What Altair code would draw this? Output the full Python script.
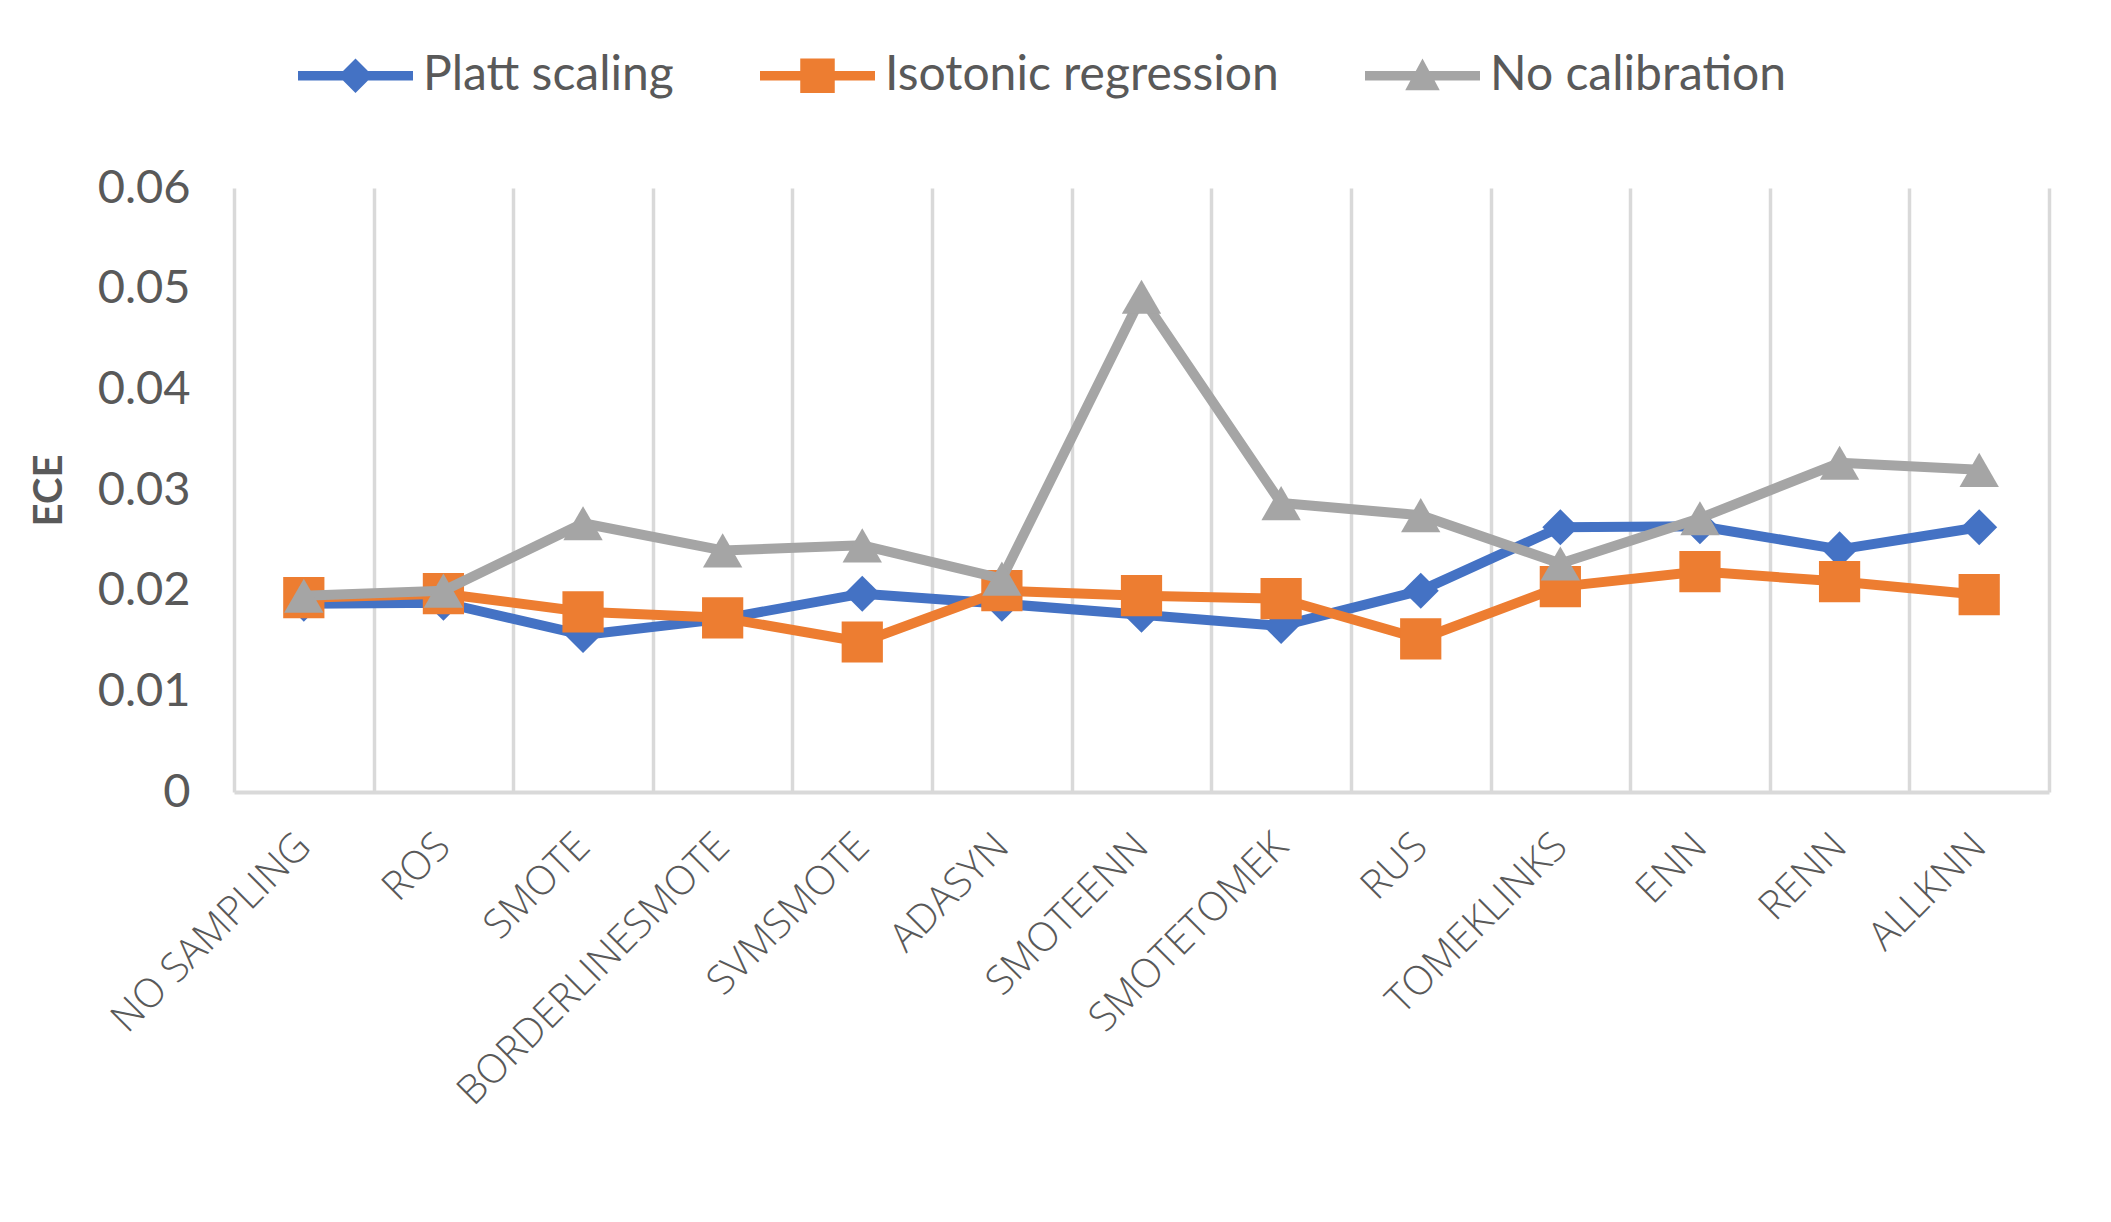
import altair as alt
import pandas as pd

methods = ["NO SAMPLING", "ROS", "SMOTE", "BORDERLINESMOTE", "SVMSMOTE", "ADASYN",
           "SMOTEENN", "SMOTETOMEK", "RUS", "TOMEKLINKS", "ENN", "RENN", "ALLKNN"]
series_names = ["Platt scaling", "Isotonic regression", "No calibration"]
platt = [0.0187, 0.0188, 0.0156, 0.0172, 0.0197, 0.0187, 0.0176, 0.0165, 0.0200, 0.0263, 0.0264, 0.0241, 0.0263]
isotonic = [0.0193, 0.0197, 0.0179, 0.0173, 0.0149, 0.0200, 0.0195, 0.0192, 0.0152, 0.0204, 0.0219, 0.0209, 0.0196]
nocal = [0.0195, 0.0200, 0.0267, 0.0240, 0.0245, 0.0212, 0.0492, 0.0287, 0.0275, 0.0227, 0.0272, 0.0327, 0.0320]
y_ticks = [0, 0.01, 0.02, 0.03, 0.04, 0.05, 0.06]
colors = ["#4472C4", "#ED7D31", "#A5A5A5"]
marker_shapes = ["diamond", "square", "triangle-up"]
marker_sizes = [1300, 1700, 1550]

legend_paths = [
    "M-1,-0.083L-0.217,-0.083L0,-0.3L0.217,-0.083L1,-0.083L1,0.083L0.217,0.083L0,0.3L-0.217,0.083L-1,0.083Z",
    "M-1,-0.083L-0.3,-0.083L-0.3,-0.3L0.3,-0.3L0.3,-0.083L1,-0.083L1,0.083L0.3,0.083L0.3,0.3L-0.3,0.3L-0.3,0.083L-1,0.083Z",
    "M-1,-0.083L-0.117,-0.083L0,-0.3L0.117,-0.083L1,-0.083L1,0.083L0.21,0.083L0.3,0.25L-0.3,0.25L-0.21,0.083L-1,0.083Z",
]

rows = []
for name, vals in zip(series_names, [platt, isotonic, nocal]):
    for m, v in zip(methods, vals):
        rows.append({"method": m, "series": name, "ece": v})
df = pd.DataFrame(rows)

FONT = "Lato"
TXT = "#595959"
GRID = "#D9D9D9"

x = alt.X(
    "method:N", sort=methods, bandPosition=0.5,
    scale=alt.Scale(type="band", paddingInner=0, paddingOuter=0),
    axis=alt.Axis(
        title=None, labelAngle=-45, labelAlign="right", labelBaseline="middle",
        labelPadding=48, labelFontSize=40, labelFont="Open Sans", labelFontWeight=300,
        labelColor=TXT, labelOverlap=False, labelLimit=1000, ticks=False, tickBand="extent",
        grid=True, gridColor=GRID, gridWidth=3.5,
        domainColor=GRID, domainWidth=4,
    ),
)
y = alt.Y(
    "ece:Q",
    scale=alt.Scale(domain=[0, 0.06], nice=False, zero=True),
    axis=alt.Axis(
        values=y_ticks, format=".2~f", labelFontSize=47, labelFont=FONT,
        labelColor=TXT, labelPadding=44, ticks=False, domain=False, grid=False,
        title="ECE", titleFontSize=40, titleFont=FONT, titleFontWeight="bold",
        titleColor=TXT, titlePadding=28,
    ),
)

base = alt.Chart(df)
layers = []
for name, c, shp, sz in zip(series_names, colors, marker_shapes, marker_sizes):
    sub = base.transform_filter(alt.datum.series == name)
    layers.append(
        sub.mark_line(color=c, strokeWidth=10, strokeJoin="round", strokeCap="round").encode(x=x, y=y)
    )
    layers.append(
        sub.mark_point(shape=shp, filled=True, size=sz, color=c, opacity=1).encode(x=x, y=y)
    )

legend = alt.Legend(
    orient="none", legendX=64, legendY=-170, direction="horizontal", title=None,
    symbolSize=13225, symbolStrokeWidth=0, symbolOpacity=1, labelFontSize=48, labelFont=FONT,
    labelColor=TXT, labelOffset=10, columnPadding=86, padding=0, labelLimit=1000,
)
legend_layer = base.transform_filter("datum.ece < 0").mark_point(filled=True, opacity=1).encode(
    x=x, y=y,
    color=alt.Color("series:N", scale=alt.Scale(domain=series_names, range=colors), legend=legend),
    shape=alt.Shape("series:N", scale=alt.Scale(domain=series_names, range=legend_paths), legend=legend),
)
layers.append(legend_layer)

chart = alt.layer(*layers).properties(
    width=1815, height=604,
    autosize=alt.AutoSizeParams(type="none"),
    padding={"left": 226, "top": 180, "right": 40, "bottom": 395},
    background="white",
).configure_view(stroke=None)

chart.save("out.html", embed_options={"renderer": "svg", "actions": False})
